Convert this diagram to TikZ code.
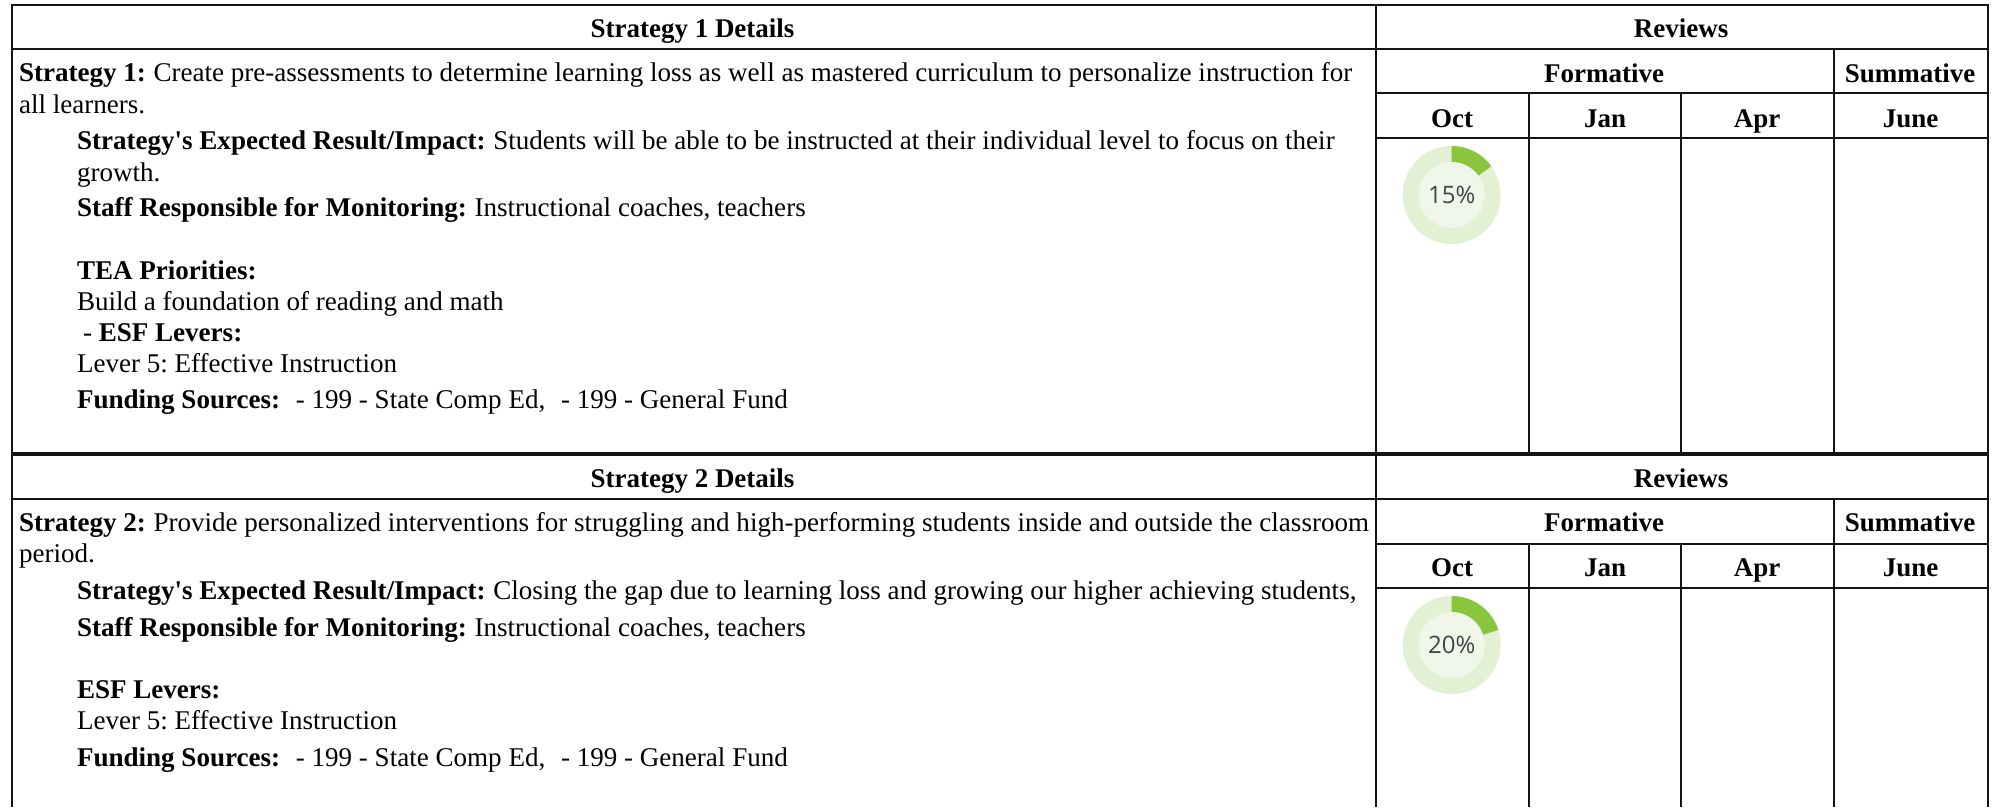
\documentclass[tikz,border=0pt]{standalone}
\usepackage{fontspec}
\setmainfont{Liberation Serif}
\newfontfamily\pctfont{Open Sans}
\definecolor{ringbg}{HTML}{E2F0D3}
\definecolor{ringin}{HTML}{F0F7E9}
\definecolor{ringfg}{HTML}{8AC53E}
\definecolor{pcttxt}{HTML}{3F444A}
\tikzset{
  grid/.style={line width=2.4pt,black!92!white},
  heavy/.style={line width=3.8pt,black!92!white},
  txt/.style={anchor=base west,inner sep=0pt,outer sep=0pt,font=\fontsize{27.05}{30}\selectfont\frenchspacing,text=black},
  hdr/.style={anchor=base,inner sep=0pt,outer sep=0pt,font=\fontsize{27}{30}\selectfont\bfseries,text=black},
  pct/.style={anchor=center,inner sep=0pt,font=\fontsize{24}{26}\selectfont\pctfont,text=pcttxt}
}
\newcommand{\donut}[3]{%
  \begin{scope}[shift={(#1,#2)},y=1pt]
  \fill[ringbg] (0,0) circle[radius=49pt];
  \fill[ringfg] (0,0) -- (90:49pt) arc[start angle=90,delta angle=-#3,radius=49pt] -- cycle;
  \fill[ringin] (0,0) circle[radius=33pt];
  \end{scope}
}
\newcommand{\lead}[1]{\textbf{#1}\hspace{0.28em}}
\begin{document}
\begin{tikzpicture}[x=1pt,y=-1pt]
\useasboundingbox (0,0) rectangle (1999,807);
\fill[white] (0,0) rectangle (1999,807);
% outer frame and rows
\draw[grid] (12,807) -- (12,5) -- (1988,5) -- (1988,807);
\draw[grid] (1376,5) -- (1376,807);
\draw[grid] (12,49) -- (1988,49);
\draw[grid] (1376,93) -- (1988,93);
\draw[grid] (1376,138) -- (1988,138);
\draw[heavy] (12,454) -- (1988,454);
\draw[grid] (12,499) -- (1988,499);
\draw[grid] (1376,544) -- (1988,544);
\draw[grid] (1376,588) -- (1988,588);
\foreach \cx in {1529,1681}{
  \draw[grid] (\cx,93) -- (\cx,454);
  \draw[grid] (\cx,544) -- (\cx,807);
}
\draw[grid] (1834,49) -- (1834,454);
\draw[grid] (1834,499) -- (1834,807);
% Strategy 1
\node[hdr] (h1) at (692.5,37) {Strategy 1 Details};
\node[hdr] (r1) at (1681,37) {Reviews};
\node[hdr] (f1) at (1604,82) {Formative};
\node[hdr] (s1) at (1910,82) {Summative};
\node[hdr] (o1) at (1452,127) {Oct};
\node[hdr] (j1) at (1605,127) {Jan};
\node[hdr] (a1) at (1757,127) {Apr};
\node[hdr] (u1) at (1910.5,127) {June};
\node[txt] (t1) at (19,81) {\lead{Strategy 1:}Create pre-assessments to determine learning loss as well as mastered curriculum to personalize instruction for};
\node[txt] (t2) at (19,113) {all learners.};
\node[txt] (t3) at (77,149) {\lead{Strategy\textquotesingle s Expected Result/Impact:}Students will be able to be instructed at their individual level to focus on their};
\node[txt] (t4) at (77,181) {growth.};
\node[txt] (t5) at (77,216) {\lead{Staff Responsible for Monitoring:}Instructional coaches, teachers};
\node[txt] (t6) at (77,279) {\textbf{TEA Priorities:}};
\node[txt] (t7) at (77,310) {Build a foundation of reading and math};
\node[txt] (t8) at (83,341) {- \textbf{ESF Levers:}};
\node[txt] (t9) at (77,372) {Lever 5: Effective Instruction};
\node[txt] (t10) at (77,408) {\textbf{Funding Sources:}\hspace{0.58em}- 199 - State Comp Ed,\hspace{0.58em}- 199 - General Fund};
\donut{1451.7}{195}{54}
\node[pct] (p1) at (1451.7,195) {15\%};
% Strategy 2
\node[hdr] (h2) at (692.5,487) {Strategy 2 Details};
\node[hdr] (r2) at (1681,487) {Reviews};
\node[hdr] (f2) at (1604,531) {Formative};
\node[hdr] (s2) at (1910,531) {Summative};
\node[hdr] (o2) at (1452,576) {Oct};
\node[hdr] (j2) at (1605,576) {Jan};
\node[hdr] (a2) at (1757,576) {Apr};
\node[hdr] (u2) at (1910.5,576) {June};
\node[txt] (v1) at (19,531) {\lead{Strategy 2:}Provide personalized interventions for struggling and high-performing students inside and outside the classroom};
\node[txt] (v2) at (19,562) {period.};
\node[txt] (v3) at (77,599) {\lead{Strategy\textquotesingle s Expected Result/Impact:}Closing the gap due to learning loss and growing our higher achieving students,};
\node[txt] (v4) at (77,636) {\lead{Staff Responsible for Monitoring:}Instructional coaches, teachers};
\node[txt] (v5) at (77,698) {\textbf{ESF Levers:}};
\node[txt] (v6) at (77,729) {Lever 5: Effective Instruction};
\node[txt] (v7) at (77,766) {\textbf{Funding Sources:}\hspace{0.58em}- 199 - State Comp Ed,\hspace{0.58em}- 199 - General Fund};
\donut{1451.7}{645}{72}
\node[pct] (p2) at (1451.7,645) {20\%};
\end{tikzpicture}
\end{document}
